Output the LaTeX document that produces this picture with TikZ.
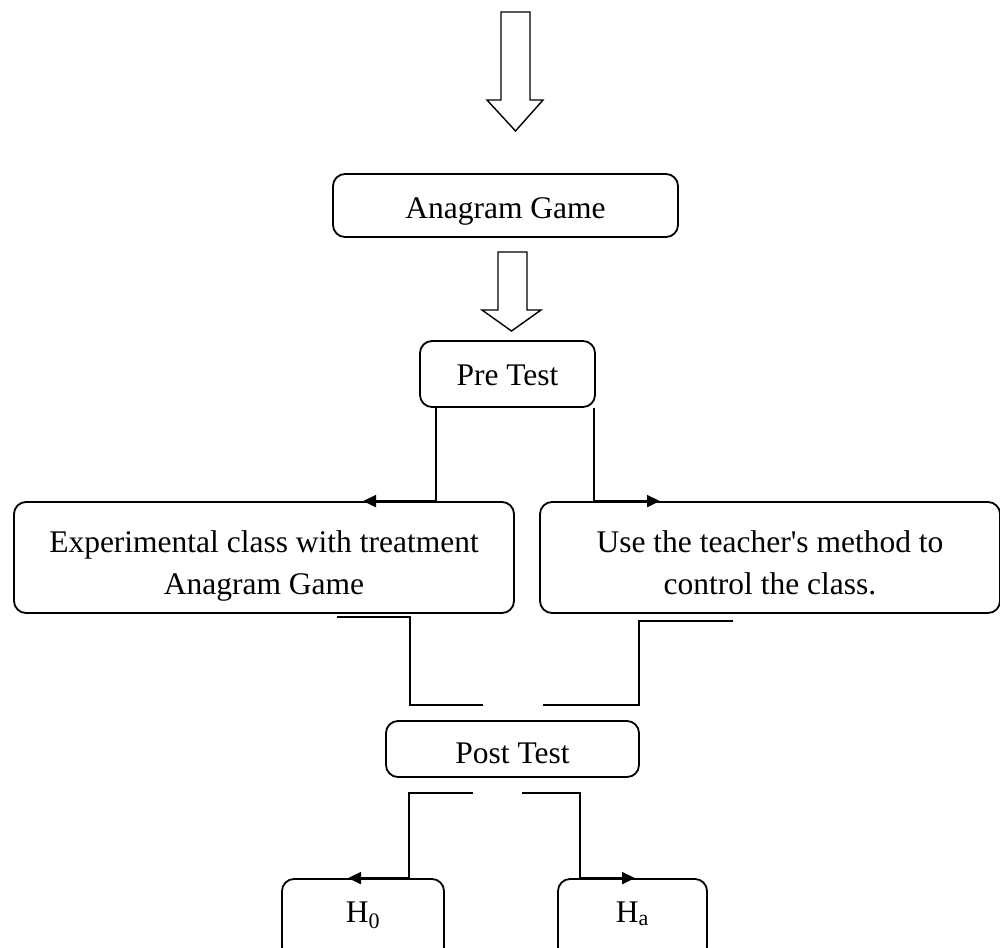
\documentclass[tikz,border=0pt]{standalone}
\usepackage{fontspec}
\setmainfont{Liberation Serif}
\usetikzlibrary{arrows.meta}
\begin{document}
\begin{tikzpicture}[x=1pt,y=-1pt,
  box/.style={draw, line width=1.8pt, rounded corners=12pt, inner sep=0pt, align=center,
    font=\fontsize{31.5}{42}\selectfont},
  onebox/.style={box, text depth=0pt},
  hbox/.style={box, text height=22pt, text depth=16pt},
  conn/.style={line width=1.8pt},
  arr/.style={conn, -{Triangle[length=13pt,width=12pt]}},
  blockarrow/.style={draw, line width=1.4pt, fill=white, line join=miter}]
\useasboundingbox (0,0) rectangle (1000,947);

% nodes
\node[onebox, text height=25pt, minimum width=345pt, minimum height=63pt] (ana) at (505.5,205.5) {Anagram Game};
\node[onebox, text height=22pt, minimum width=175pt, minimum height=66pt] (pre) at (507.5,374) {Pre Test};
\node[box, minimum width=500pt, minimum height=111pt] (exp) at (264,557.5) {\raisebox{-14pt}[0pt][0pt]{\begin{tabular}{@{}c@{}}Experimental class with treatment\\Anagram Game\end{tabular}}};
\node[box, minimum width=460pt, minimum height=111pt] (use) at (770,557.5) {\raisebox{-14pt}[0pt][0pt]{\begin{tabular}{@{}c@{}}Use the teacher\textquotesingle s method to\\control the class.\end{tabular}}};
\node[onebox, text height=28pt, minimum width=253pt, minimum height=56pt] (post) at (512.5,749) {Post Test};
\node[hbox, minimum width=162pt, minimum height=80pt] (h0) at (363,919) {H\textsubscript{0}};
\node[hbox, minimum width=149pt, minimum height=80pt] (ha) at (632.5,919) {H\textsubscript{a}};

% block arrows
\draw[blockarrow] (501,12) -- (530,12) -- (530,100) -- (543,100) -- (515.5,131) -- (487,100) -- (501,100) -- cycle;
\draw[blockarrow] (498,252) -- (527,252) -- (527,310) -- (541,310) -- (511.5,331) -- (482,310) -- (498,310) -- cycle;

% connectors from Pre Test
\draw[arr] ([xshift=17pt]pre.south west) |- ([xshift=99pt]exp.north);
\draw[arr] ([xshift=-2pt]pre.south east) |- ([xshift=-110pt]use.north);

% connectors towards Post Test
\draw[conn] ([xshift=73pt,yshift=-3pt]exp.south) -- ++(73,0) -- ++(0,88) -- ++(73,0);
\draw[conn] ([xshift=-37pt,yshift=-7pt]use.south) -- ++(-94,0) -- ++(0,84) -- ++(-96,0);

% connectors from Post Test
\draw[arr] ([xshift=-39.5pt,yshift=-15pt]post.south) -- ++(-64,0) |- ([xshift=-15pt]h0.north);
\draw[arr] ([xshift=9.5pt,yshift=-15pt]post.south) -- ++(58,0) |- ([xshift=2.5pt]ha.north);
\end{tikzpicture}
\end{document}
